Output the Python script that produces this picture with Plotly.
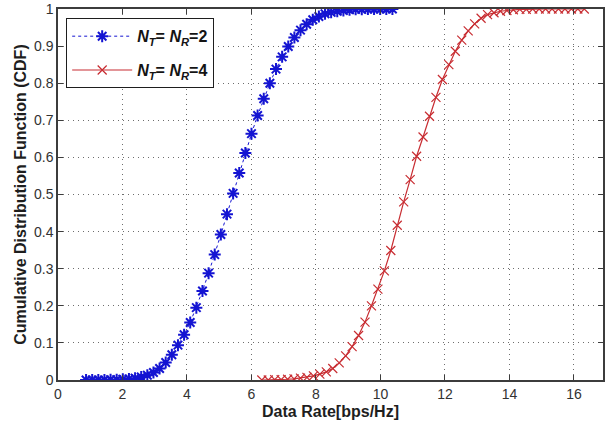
import plotly.graph_objects as go

# Series 1: N_T = N_R = 2
rate_2x2 = [0.87, 1.06, 1.25, 1.44, 1.63, 1.82, 2.01, 2.20, 2.39, 2.58,
            2.77, 2.96, 3.15, 3.34, 3.53, 3.72, 3.91, 4.10, 4.29, 4.48,
            4.67, 4.86, 5.05, 5.24, 5.43, 5.62, 5.81, 6.00, 6.19, 6.38,
            6.57, 6.76, 6.95, 7.14, 7.33, 7.52, 7.71, 7.90, 8.09, 8.28,
            8.47, 8.66, 8.85, 9.04, 9.23, 9.42, 9.61, 9.80, 9.99, 10.18, 10.37]
cdf_2x2 = [0.000, 0.000, 0.000, 0.000, 0.001, 0.001, 0.002, 0.003, 0.005, 0.008,
           0.013, 0.020, 0.031, 0.047, 0.068, 0.094, 0.122, 0.155, 0.195, 0.240,
           0.288, 0.338, 0.392, 0.447, 0.503, 0.558, 0.612, 0.664, 0.713, 0.758,
           0.800, 0.838, 0.871, 0.899, 0.923, 0.943, 0.959, 0.971, 0.980, 0.987,
           0.991, 0.994, 0.996, 0.998, 0.999, 0.999, 1.000, 1.000, 1.000, 1.000, 1.000]

# Series 2: N_T = N_R = 4
rate_4x4 = [6.32, 6.52, 6.72, 6.92, 7.12, 7.32, 7.52, 7.72, 7.92, 8.12,
            8.32, 8.52, 8.72, 8.92, 9.12, 9.32, 9.52, 9.72, 9.92, 10.12,
            10.32, 10.52, 10.72, 10.92, 11.12, 11.32, 11.52, 11.72, 11.92, 12.12,
            12.32, 12.52, 12.72, 12.92, 13.12, 13.32, 13.52, 13.72, 13.92, 14.12,
            14.32, 14.52, 14.72, 14.92, 15.12, 15.32, 15.52, 15.72, 15.92, 16.12, 16.32]
cdf_4x4 = [0.000, 0.000, 0.001, 0.001, 0.002, 0.003, 0.005, 0.007, 0.011, 0.016,
           0.022, 0.031, 0.046, 0.065, 0.090, 0.120, 0.156, 0.200, 0.245, 0.294,
           0.349, 0.417, 0.480, 0.540, 0.603, 0.655, 0.711, 0.762, 0.810, 0.850,
           0.886, 0.916, 0.941, 0.960, 0.975, 0.985, 0.990, 0.994, 0.996, 0.998,
           0.999, 0.999, 1.000, 1.000, 1.000, 1.000, 1.000, 1.000, 1.000, 1.000, 1.000]

x_ticks = [0, 2, 4, 6, 8, 10, 12, 14, 16]
y_ticks = [0, 0.1, 0.2, 0.3, 0.4, 0.5, 0.6, 0.7, 0.8, 0.9, 1]
y_tick_text = ["0", "0.1", "0.2", "0.3", "0.4", "0.5", "0.6", "0.7", "0.8", "0.9", "1"]

name_2 = "<b><i>N</i><sub><i>T</i></sub>= <i>N</i><sub><i>R</i></sub>=2</b>"
name_4 = "<b><i>N</i><sub><i>T</i></sub>= <i>N</i><sub><i>R</i></sub>=4</b>"

blue = "rgb(20,20,210)"
red = "rgb(200,45,50)"
txt = "rgb(50,50,50)"

fig = go.Figure()
fig.add_trace(go.Scatter(
    x=rate_2x2, y=cdf_2x2, mode="lines+markers", name=name_2, legendgroup="a",
    line=dict(color=blue, width=1, dash="dot"),
    marker=dict(symbol="asterisk-open", size=10, color=blue,
                line=dict(color=blue, width=2)),
))
fig.add_trace(go.Scatter(
    x=rate_4x4, y=cdf_4x4, mode="lines+markers", name=name_4, legendgroup="b",
    line=dict(color=red, width=1.2),
    marker=dict(symbol="x-thin-open", size=9, color=red,
                line=dict(color=red, width=1.2)),
))

grid = dict(showgrid=True, gridcolor="rgb(110,110,110)", griddash="1px,4px", gridwidth=1)
fig.update_layout(
    width=606, height=429,
    margin=dict(l=58, r=1, t=7, b=49),
    paper_bgcolor="white", plot_bgcolor="white",
    font=dict(family="Liberation Sans, Arial, sans-serif", size=14, color=txt),
    showlegend=True,
    legend=dict(x=0.015, y=0.975, xanchor="left", yanchor="top",
                bgcolor="white", bordercolor="rgb(30,30,30)", borderwidth=1,
                font=dict(size=16, color="rgb(20,20,20)"),
                traceorder="grouped", tracegroupgap=10, itemwidth=60),
    xaxis=dict(range=[0, 16.9], tickvals=x_ticks, ticks="inside", ticklen=5,
               tickcolor="rgb(60,60,60)",
               showline=True, linecolor="rgb(60,60,60)", linewidth=1.5, mirror="ticks",
               zeroline=False, ticklabeloverflow="allow",
               title=dict(text="<b>Data Rate[bps/Hz]</b>", font=dict(size=16, color="rgb(30,30,30)"),
                          standoff=5),
               **grid),
    yaxis=dict(range=[0, 1], tickvals=y_ticks, ticktext=y_tick_text, ticks="inside", ticklen=5,
               tickcolor="rgb(60,60,60)",
               showline=True, linecolor="rgb(60,60,60)", linewidth=1.5, mirror="ticks",
               zeroline=False, ticklabeloverflow="allow",
               title=dict(text="<b>Cumulative Distribution Function (CDF)</b>",
                          font=dict(size=16, color="rgb(30,30,30)"), standoff=3),
               **grid),
)

fig.write_html("out.html")
